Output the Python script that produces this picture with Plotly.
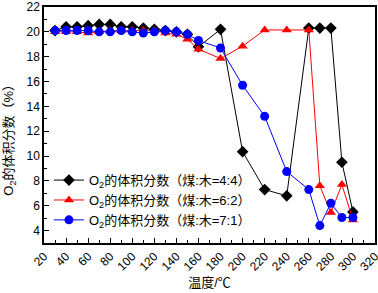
import plotly.graph_objects as go

temps = [30, 40, 50, 60, 70, 80, 90, 100, 110, 120, 130, 140, 150, 160,
         180, 200, 220, 240, 260, 270, 280, 290, 300]
o2_44 = [20.1, 20.4, 20.4, 20.5, 20.6, 20.6, 20.4, 20.4, 20.3, 20.2, 20.1, 20.0, 19.8, 18.8,
         20.2, 10.35, 7.3, 6.8, 20.3, 20.3, 20.3, 9.5, 5.5]
o2_62 = [20.0, 20.0, 20.0, 19.9, 20.0, 20.1, 20.1, 20.1, 20.1, 20.1, 19.9, 19.8, 19.4, 18.6,
         17.85, 18.85, 20.15, 20.15, 20.15, 7.6, 5.45, 7.7, 4.85]
o2_71 = [20.1, 20.1, 20.1, 20.1, 20.0, 20.0, 20.1, 20.0, 19.9, 20.0, 20.1, 20.0, 19.8, 19.3,
         18.7, 15.7, 13.2, 8.75, 7.3, 4.4, 6.2, 5.05, 5.05]

names = ["O<sub>2</sub>的体积分数（煤:木=4:4）",
         "O<sub>2</sub>的体积分数（煤:木=6:2）",
         "O<sub>2</sub>的体积分数（煤:木=7:1）"]
x_title = "温度/℃"
y_title = "O<sub>2</sub>的体积分数（%）"

FONT = "Arial, Liberation Sans, Noto Sans CJK SC, sans-serif"

fig = go.Figure()
fig.add_trace(go.Scatter(x=temps, y=o2_44, name=names[0], mode="lines+markers",
                         line=dict(color="#000000", width=1),
                         marker=dict(symbol="diamond", size=9, color="#000000")))
fig.add_trace(go.Scatter(x=temps, y=o2_62, name=names[1], mode="lines+markers",
                         line=dict(color="#ff0000", width=1),
                         marker=dict(symbol="triangle-up", size=9, color="#ff0000")))
fig.add_trace(go.Scatter(x=temps, y=o2_71, name=names[2], mode="lines+markers",
                         line=dict(color="#0000ff", width=1),
                         marker=dict(symbol="circle", size=9, color="#0000ff")))

axis_common = dict(showline=True, linecolor="#000000", linewidth=1.5, mirror=True,
                   ticks="inside", tickcolor="#000000", ticklen=5, tickwidth=1,
                   showgrid=False, zeroline=False, automargin=False,
                   ticklabeloverflow="allow")

fig.update_layout(
    width=378, height=293,
    margin=dict(l=44, r=3, t=7, b=50),
    paper_bgcolor="white", plot_bgcolor="white",
    font=dict(family=FONT, size=12, color="#000000"),
    showlegend=True,
    legend=dict(x=0.015, y=0.33, xanchor="left", yanchor="top",
                bgcolor="rgba(0,0,0,0)", font=dict(family=FONT, size=13),
                tracegroupgap=0, itemwidth=30),
    xaxis=dict(range=[20, 320], dtick=20, tick0=20, tickangle=-45,
               tickfont=dict(family=FONT, size=12, color="#000000"),
               minor=dict(dtick=10, ticks="inside", ticklen=3, tickcolor="#000000"),
               title=dict(text=x_title, font=dict(family=FONT, size=13), standoff=5),
               **axis_common),
    yaxis=dict(range=[3, 22], dtick=2, tick0=0,
               tickfont=dict(family=FONT, size=12, color="#000000"),
               minor=dict(dtick=1, ticks="inside", ticklen=3, tickcolor="#000000"),
               **axis_common),
    annotations=[dict(text=y_title, textangle=-90, xref="paper", yref="paper",
                      x=-0.103, y=0.45, xanchor="center", yanchor="middle",
                      showarrow=False, font=dict(family=FONT, size=13, color="#000000"))],
)

fig.write_html("out.html", config={"displayModeBar": False},
               post_script="document.body.style.margin='0';")
